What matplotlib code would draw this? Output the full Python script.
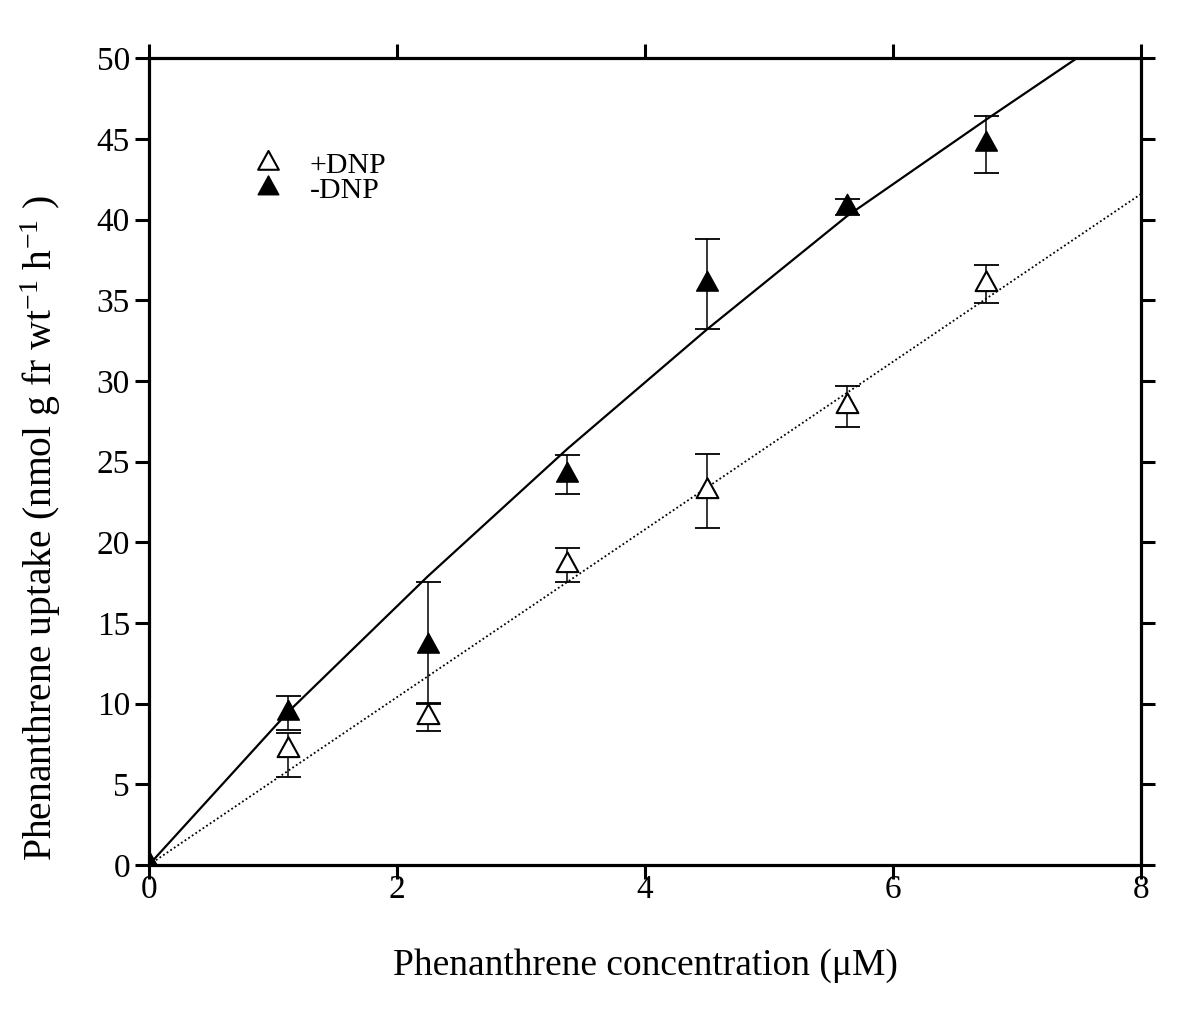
import numpy as np
import matplotlib
matplotlib.use("Agg")
import matplotlib.pyplot as plt
from matplotlib.path import Path

plt.rcParams["font.family"] = ["Liberation Serif", "DejaVu Serif"]
plt.rcParams["mathtext.fontset"] = "custom"
plt.rcParams["mathtext.rm"] = "Liberation Serif"
plt.rcParams["mathtext.it"] = "Liberation Serif:italic"

# concentration (uM)
conc = [0, 1.125, 2.25, 3.375, 4.5, 5.625, 6.75]

# uptake with DNP (open triangles)
plus_dnp = [0, 7.13, 9.16, 18.6, 23.18, 28.43, 36.02]
plus_lo = [0, 1.66, 0.84, 1.03, 2.32, 1.26, 1.17]
plus_hi = [0, 1.03, 0.85, 1.03, 2.32, 1.26, 1.17]

# uptake without DNP (filled triangles)
minus_dnp = [0, 9.45, 13.6, 24.2, 36.0, 40.8, 44.66]
minus_lo = [0, 1.1, 3.54, 1.2, 2.8, 0.5, 1.76]
minus_hi = [0, 1.05, 3.95, 1.2, 2.8, 0.5, 1.76]

# fitted curves
fit_minus_x = [0, 1.125, 2.25, 3.375, 4.5, 5.625, 6.75, 7.48]
fit_minus_y = [0, 9.5, 17.9, 25.8, 33.2, 40.2, 46.2, 50]
fit_plus_x = [0, 8]
fit_plus_y = [0, 41.6]

# triangle with its centroid at the origin (like SigmaPlot symbols)
tri = Path([(0, 2 / 3), (-0.55, -1 / 3), (0.55, -1 / 3), (0, 2 / 3)],
           [Path.MOVETO, Path.LINETO, Path.LINETO, Path.CLOSEPOLY])

fig = plt.figure(figsize=(12, 10.32), dpi=100)
ax = fig.add_axes([0.124, 0.1618, 0.827, 0.7817])

ax.plot(fit_minus_x, fit_minus_y, color="black", lw=1.6, zorder=2)
ax.plot(fit_plus_x, fit_plus_y, color="black", lw=1.3, ls=(0, (1, 1.4)), zorder=2)

ax.errorbar(conc, plus_dnp, yerr=[plus_lo, plus_hi], fmt="none", ecolor="black",
            elinewidth=1.1, capsize=9, capthick=1.3, zorder=3)
ax.errorbar(conc, minus_dnp, yerr=[minus_lo, minus_hi], fmt="none", ecolor="black",
            elinewidth=1.1, capsize=9, capthick=1.3, zorder=3)

ax.plot(conc, plus_dnp, ls="none", marker=tri, ms=19, mfc="white", mec="black",
        mew=1.5, zorder=4, label="+DNP")
ax.plot(conc, minus_dnp, ls="none", marker=tri, ms=19, mfc="black", mec="black",
        mew=1.0, zorder=4, label="-DNP")

ax.set_xlim(0, 8)
ax.set_ylim(0, 50)
ax.set_xticks([0, 2, 4, 6, 8])
ax.set_yticks(np.arange(0, 51, 5))

for s in ax.spines.values():
    s.set_linewidth(2.3)
ax.tick_params(direction="out", length=10, width=2.2, labelsize=24,
               top=True, right=True)
ax.tick_params(axis="y", pad=3.5)
ax.tick_params(axis="x", pad=-3)

ax.set_xlabel("Phenanthrene concentration (\u03bcM)", fontsize=27)
ax.set_ylabel("Phenanthrene uptake (nmol g fr wt$^{-1}$ h$^{-1}$ )", fontsize=28.5)
ax.xaxis.set_label_coords(0.5, -0.103)
ax.yaxis.set_label_coords(-0.086, 0.418)

ax.legend(loc="upper left", bbox_to_anchor=(0.075, 0.917), frameon=False,
          fontsize=21.5, handletextpad=0.8, labelspacing=-0.05, markerscale=0.95,
          handlelength=1.2)

fig.savefig("out.png", dpi=100)
